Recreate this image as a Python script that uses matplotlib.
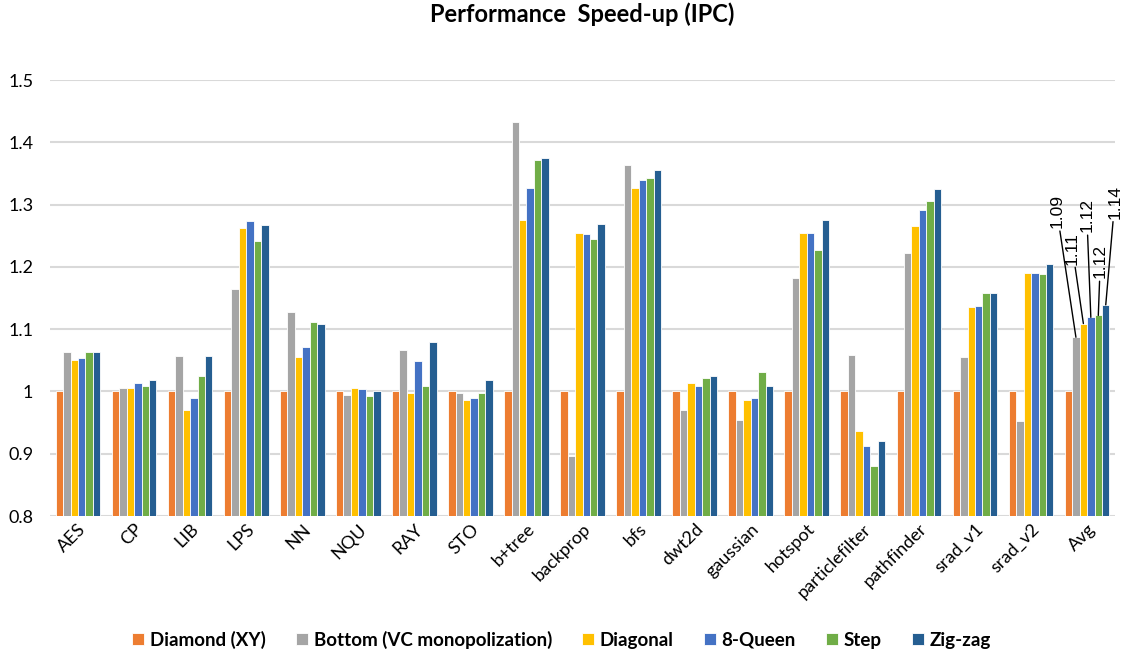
import numpy as np
import matplotlib
matplotlib.use("Agg")
import matplotlib.pyplot as plt

plt.rcParams['font.family'] = ['Lato', 'DejaVu Sans']

categories = ["AES", "CP", "LIB", "LPS", "NN", "NQU", "RAY", "STO", "b+tree",
              "backprop", "bfs", "dwt2d", "gaussian", "hotspot", "particlefilter",
              "pathfinder", "srad_v1", "srad_v2", "Avg"]
series_names = ["Diamond (XY)", "Bottom (VC monopolization)", "Diagonal",
                "8-Queen", "Step", "Zig-zag"]

diamond = [1.0] * 19
bottom = [1.063, 1.006, 1.057, 1.165, 1.128, 0.994, 1.067, 0.997, 1.433,
          0.897, 1.364, 0.970, 0.954, 1.182, 1.059, 1.222, 1.055, 0.953, 1.087]
diagonal = [1.050, 1.006, 0.970, 1.263, 1.055, 1.006, 0.997, 0.986, 1.275,
            1.255, 1.327, 1.013, 0.986, 1.255, 0.936, 1.266, 1.135, 1.190, 1.109]
queen8 = [1.053, 1.014, 0.990, 1.273, 1.071, 1.004, 1.049, 0.990, 1.326,
          1.253, 1.340, 1.009, 0.990, 1.255, 0.913, 1.291, 1.137, 1.190, 1.119]
step = [1.063, 1.008, 1.025, 1.241, 1.111, 0.992, 1.008, 0.998, 1.372,
        1.245, 1.342, 1.022, 1.032, 1.227, 0.881, 1.305, 1.158, 1.188, 1.122]
zigzag = [1.063, 1.018, 1.057, 1.267, 1.109, 1.000, 1.079, 1.019, 1.375,
          1.269, 1.355, 1.024, 1.009, 1.275, 0.921, 1.325, 1.158, 1.204, 1.139]
avg_labels = ["1.09", "1.11", "1.12", "1.12", "1.14"]

colors = ["#ED7D31", "#A5A5A5", "#FFC000", "#4472C4", "#70AD47", "#255E91"]
all_series = [diamond, bottom, diagonal, queen8, step, zigzag]

fig = plt.figure(figsize=(11.23, 6.56), dpi=100)
ax = fig.add_axes([0.0445, 0.2134, 0.9485, 0.6646])

x = np.arange(len(categories))
w = 0.133
bars = []
for i, (vals, c, name) in enumerate(zip(all_series, colors, series_names)):
    b = ax.bar(x + (i - 2.5) * w, vals, width=w, color=c, edgecolor="white",
               linewidth=0.6, label=name, zorder=3)
    bars.append(b)

ax.set_ylim(0.8, 1.5)
ax.set_xlim(-0.5, len(categories) - 0.5)
ax.set_yticks([0.8, 0.9, 1.0, 1.1, 1.2, 1.3, 1.4, 1.5])
ax.set_yticklabels(["0.8", "0.9", "1", "1.1", "1.2", "1.3", "1.4", "1.5"], fontsize=13)
ax.yaxis.grid(True, color="#d9d9d9", linewidth=1.5, zorder=0)
ax.set_axisbelow(True)
for s in ax.spines.values():
    s.set_visible(False)
ax.tick_params(axis="both", length=0)
ax.tick_params(axis="y", pad=12)
ax.set_xticks(x)
ax.set_xticklabels(categories, rotation=45, ha="right", rotation_mode="anchor", fontsize=13)

ax.set_title("Performance  Speed-up (IPC)", fontsize=17, fontweight="bold", pad=42)

# data labels on Avg bars (offsets in pixels)
offsets = [(-19, 109), (-11, 59), (-4, 85), (2, 37), (9, 86)]
for k, (lab, off) in enumerate(zip(avg_labels, offsets)):
    rect = bars[k + 1][-1]
    xb = rect.get_x() + rect.get_width() / 2
    yb = rect.get_height()
    ax.annotate(lab, xy=(xb, yb), xytext=off, textcoords="offset pixels",
                rotation=90, ha="center", va="bottom", fontsize=12.5,
                family=["Liberation Sans"],
                arrowprops=dict(arrowstyle="-", color="black", lw=1,
                                shrinkA=0, shrinkB=0))

fig.legend(handles=bars, labels=series_names, loc="center", bbox_to_anchor=(0.5, 0.025),
           ncol=6, frameon=False, handlelength=0.65, handleheight=0.65,
           columnspacing=1.6, handletextpad=0.3,
           prop={"weight": "bold", "size": 13.5})

fig.savefig("out.png", dpi=100)
